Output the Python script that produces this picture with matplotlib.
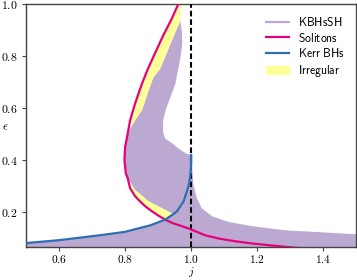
import numpy as np
import matplotlib
matplotlib.use("Agg")
import matplotlib.pyplot as plt
from matplotlib.patches import Patch
from matplotlib.lines import Line2D

plt.rcParams['mathtext.fontset'] = 'cm'

# Solitons curve (j, epsilon), top to bottom
sol_j = [0.963, 0.940, 0.915, 0.892, 0.869, 0.851, 0.830, 0.815, 0.805, 0.800,
         0.798, 0.802, 0.808, 0.815, 0.830, 0.845, 0.862, 0.881, 0.900, 0.921,
         0.945, 0.972, 1.000, 1.042, 1.085, 1.133, 1.180, 1.234, 1.315, 1.400]
sol_e = [1.005, 0.940, 0.878, 0.815, 0.751, 0.694, 0.617, 0.553, 0.483, 0.452,
         0.401, 0.350, 0.330, 0.293, 0.262, 0.242, 0.222, 0.204, 0.188, 0.172,
         0.158, 0.147, 0.134, 0.112, 0.099, 0.089, 0.081, 0.074, 0.064, 0.056]

# Kerr BHs curve
kerr_j = [0.500, 0.599, 0.724, 0.799, 0.876, 0.921, 0.946, 0.957, 0.977, 0.987,
          0.994, 0.998, 1.000, 1.000]
kerr_e = [0.082, 0.093, 0.112, 0.125, 0.150, 0.172, 0.193, 0.204, 0.242, 0.280,
          0.312, 0.350, 0.390, 0.420]

# KBHsSH domain: upper tail boundary (right of j=1), from right edge to cusp
tail_j = [1.510, 1.386, 1.285, 1.184, 1.113, 1.063, 1.032, 1.017, 1.007, 1.004, 1.001]
tail_e = [0.115, 0.124, 0.131, 0.147, 0.163, 0.185, 0.216, 0.255, 0.305, 0.350, 0.419]

# notch boundary, from cusp up to the top tip
notch_j = [1.000, 0.987, 0.962, 0.936, 0.921, 0.915, 0.915, 0.924, 0.939, 0.952,
           0.959, 0.967, 0.973, 0.972, 0.967]
notch_e = [0.420, 0.424, 0.445, 0.471, 0.483, 0.510, 0.552, 0.598, 0.648, 0.693,
           0.739, 0.789, 0.846, 0.892, 0.935]

# border between KBHsSH and the upper irregular band, top to bottom
ubord_j = [0.970, 0.967, 0.952, 0.931, 0.906, 0.886, 0.871, 0.861, 0.851, 0.830,
           0.815, 0.806]
ubord_e = [1.005, 0.935, 0.891, 0.827, 0.751, 0.719, 0.668, 0.630, 0.592, 0.553,
           0.522, 0.490]

# border of the lower irregular band (upper side), left to right
lbord_j = [0.808, 0.830, 0.871, 0.911, 0.946]
lbord_e = [0.330, 0.286, 0.242, 0.216, 0.193]

sol = np.column_stack([sol_j, sol_e])
kerr = np.column_stack([kerr_j, kerr_e])
tail = np.column_stack([tail_j, tail_e])
notch = np.column_stack([notch_j, notch_e])
ubord = np.column_stack([ubord_j, ubord_e])
lbord = np.column_stack([lbord_j, lbord_e])

# purple region polygon
nose = sol[(sol[:, 1] < 0.49) & (sol[:, 1] > 0.33)]
kerr_low = kerr[kerr[:, 1] <= 0.193][::-1]
kbh_poly = np.vstack([[[0.5, 0.0], [1.51, 0.0]], tail, notch, ubord[1:],
                      nose, lbord, kerr_low])

# upper irregular band: solitons from top down to 0.49 then back up along border
sol_up = sol[sol[:, 1] >= 0.483]
irr_up = np.vstack([sol_up, ubord[::-1]])
# lower irregular band
sol_lo = sol[(sol[:, 1] <= 0.330) & (sol[:, 1] >= 0.172)]
kerr_mid = kerr[(kerr[:, 1] > 0.172) & (kerr[:, 1] <= 0.193)]
irr_lo = np.vstack([sol_lo, kerr_mid, lbord[::-1]])

c_kbh = '#bba9d2'
c_sol = '#e6007e'
c_kerr = '#2f6db5'
c_irr = '#ffff99'

fig = plt.figure(figsize=(3.57, 2.8), dpi=100)
ax = fig.add_axes([0.073, 0.117, 0.925, 0.869])

ax.fill(kbh_poly[:, 0], kbh_poly[:, 1], color=c_kbh, lw=0, zorder=1)
ax.fill(irr_up[:, 0], irr_up[:, 1], color=c_irr, lw=0, zorder=2)
ax.fill(irr_lo[:, 0], irr_lo[:, 1], color=c_irr, lw=0, zorder=2)
ax.axvline(1.0, color='black', ls=(0, (2.7, 1.4)), lw=1.5, zorder=3)
ax.plot(sol[:, 0], sol[:, 1], color=c_sol, lw=1.6, zorder=4)
ax.plot(kerr[:, 0], kerr[:, 1], color=c_kerr, lw=1.6, zorder=4)

ax.set_xlim(0.5, 1.5)
ax.set_ylim(0.066, 1.0)
ax.set_xticks([0.6, 0.8, 1.0, 1.2, 1.4])
ax.set_xticklabels([f'${v:.1f}$' for v in [0.6, 0.8, 1.0, 1.2, 1.4]])
ax.set_yticks([0.2, 0.4, 0.6, 0.8, 1.0])
ax.set_yticklabels([f'${v:.1f}$' for v in [0.2, 0.4, 0.6, 0.8, 1.0]])
ax.tick_params(labelsize=8.5, length=3, width=0.8, pad=3, color='#444444')
ax.tick_params(axis='x', pad=1.5, labelsize=8.2)
for s in ax.spines.values():
    s.set_color('#444444')
    s.set_linewidth(1.0)
ax.set_xlabel(r'$j$', fontsize=8, va='bottom')
ax.set_ylabel(r'$\epsilon$', fontsize=9, rotation=0)
ax.xaxis.set_label_coords(0.5, -0.129)
ax.yaxis.set_label_coords(-0.062, 0.47)

handles = [Line2D([], [], color=c_kbh, lw=1.6),
           Line2D([], [], color=c_sol, lw=1.6),
           Line2D([], [], color=c_kerr, lw=1.6),
           Patch(color=c_irr)]
labels = [r'$\mathsf{KBHsSH}$', r'$\mathsf{Solitons}$', r'$\mathsf{Kerr\ BHs}$',
          r'$\mathsf{Irregular}$']
ax.legend(handles, labels, loc='upper right', frameon=False, fontsize=8.4,
          handlelength=2.0, handletextpad=0.75, labelspacing=0.25,
          borderaxespad=0.6)

fig.savefig('out.png', dpi=100)
